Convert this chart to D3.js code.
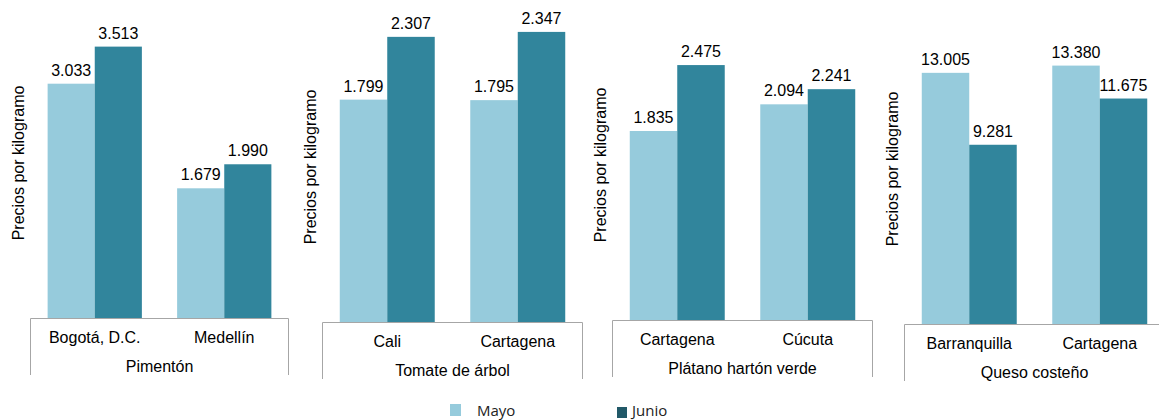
<!DOCTYPE html>
<html>
<head>
<meta charset="utf-8">
<script src="https://cdn.jsdelivr.net/npm/d3@7.9.0/dist/d3.min.js"></script>
<style>
  body { margin: 0; background: #fff; }
  svg text { font-family: "Liberation Sans", Arial, sans-serif; fill: #000; }
  .legend text { font-family: "Open Sans", "Noto Sans", sans-serif; fill: #222; }
</style>
</head>
<body>
<svg id="chart" width="1159" height="420"></svg>
<script>
// data
const products = ['Pimentón', 'Tomate de árbol', 'Plátano hartón verde', 'Queso costeño'];
const cities = [
  ['Bogotá, D.C.', 'Medellín'],
  ['Cali', 'Cartagena'],
  ['Cartagena', 'Cúcuta'],
  ['Barranquilla', 'Cartagena']
];
const mayo = [[3033, 1679], [1799, 1795], [1835, 2094], [13005, 13380]];
const junio = [[3513, 1990], [2307, 2347], [2475, 2241], [9281, 11675]];
const yMax = [4000, 2500, 3000, 16000];
const series = ['Mayo', 'Junio'];

// layout of the four little charts
const panels = [
  { x0: 30, x1: 289, base: 318 },
  { x0: 322, x1: 583, base: 322 },
  { x0: 612, x1: 873, base: 320 },
  { x0: 904, x1: 1165, base: 324 }
];
const plotH = 309;
const colors = { Mayo: '#96cbdc', Junio: '#31859c' };
const fmt = d3.format(',');

const svg = d3.select('#chart');

products.forEach((product, i) => {
  let p = panels[i];
  let g = svg.append('g');

  let x = d3.scaleBand().domain(cities[i]).range([p.x0, p.x1]);
  let xs = d3.scaleBand().domain(series).range([0, x.bandwidth()]).paddingOuter(0.374);
  let y = d3.scaleLinear().domain([0, yMax[i]]).range([p.base, p.base - plotH]);

  let rows = cities[i].map((c, j) => ({ city: c, Mayo: mayo[i][j], Junio: junio[i][j] }));

  rows.forEach((r) => {
    series.forEach((s) => {
      let bx = x(r.city) + xs(s);
      g.append('rect')
        .attr('x', bx)
        .attr('y', y(r[s]))
        .attr('width', xs.bandwidth())
        .attr('height', y(0) - y(r[s]))
        .attr('fill', colors[s]);
      g.append('text')
        .attr('x', bx + xs.bandwidth() / 2)
        .attr('y', y(r[s]) - 8)
        .attr('text-anchor', 'middle')
        .attr('font-size', 16)
        .text(fmt(r[s]).replace(/,/g, '.'));
    });
  });

  // category axis box
  let boxH = 57;
  g.append('path')
    .attr('d', `M${p.x0 + 0.5},${p.base + boxH} V${p.base + 0.5} H${p.x1 - 0.5} V${p.base + boxH}`)
    .attr('fill', 'none')
    .attr('stroke', '#a6a6a6')
    .attr('stroke-width', 1);

  cities[i].forEach((c) => {
    g.append('text')
      .attr('x', x(c) + x.bandwidth() / 2)
      .attr('y', p.base + 25)
      .attr('text-anchor', 'middle')
      .attr('font-size', 16)
      .text(c);
  });

  g.append('text')
    .attr('x', (p.x0 + p.x1) / 2)
    .attr('y', p.base + 54)
    .attr('text-anchor', 'middle')
    .attr('font-size', 16)
    .text(product);

  // y axis title
  g.append('text')
    .attr('transform', `translate(${p.x0 - 12},${p.base - 155}) rotate(-90)`)
    .attr('text-anchor', 'middle')
    .attr('dy', '0.35em')
    .attr('font-size', 16)
    .text('Precios por kilogramo');
});

// legend
const legend = svg.append('g').attr('class', 'legend');
const legendItems = [
  { name: 'Mayo', sx: 450, sy: 404, sw: 11, sh: 12, tx: 477, fill: '#96cbdc' },
  { name: 'Junio', sx: 617, sy: 407, sw: 10, sh: 11, tx: 632, fill: '#215968' }
];
legendItems.forEach((d) => {
  legend.append('rect')
    .attr('x', d.sx).attr('y', d.sy)
    .attr('width', d.sw).attr('height', d.sh)
    .attr('fill', d.fill);
  legend.append('text')
    .attr('x', d.tx).attr('y', 416)
    .attr('font-size', 15)
    .text(d.name);
});
</script>
</body>
</html>
